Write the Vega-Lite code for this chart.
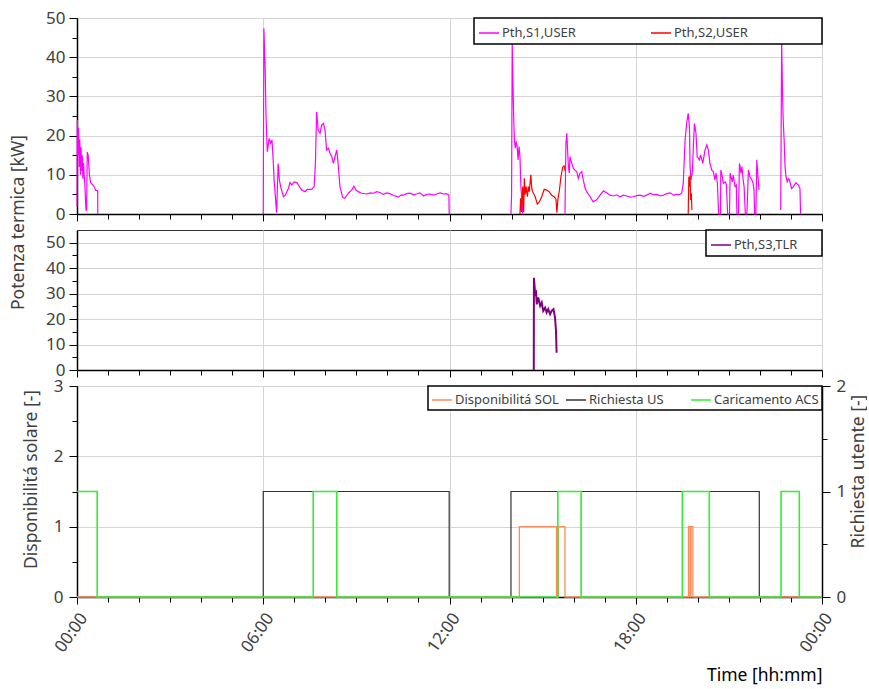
{
 "$schema": "https://vega.github.io/schema/vega-lite/v6.json",
 "background": "white",
 "padding": {"left": 8, "top": 8, "right": 0, "bottom": 0},
 "bounds": "flush",
 "spacing": 16,
 "config": {
  "font": "Noto Sans",
  "view": {"stroke": "#333333", "strokeWidth": 1},
  "axis": {"labelFont": "Noto Sans", "titleFont": "Noto Sans", "labelColor": "#404040", "titleColor": "#404040", "labelFontSize": 17, "titleFontSize": 17.5, "titleFontWeight": "normal", "domainColor": "#000000", "domainWidth": 1.5, "tickColor": "#000000", "tickWidth": 1, "gridColor": "#d4d4d4", "gridWidth": 1},
  "legend": {"labelFont": "Noto Sans", "labelFontSize": 13, "labelColor": "#404040", "symbolType": "stroke", "symbolSize": 400, "symbolStrokeWidth": 1.5, "strokeColor": "#000000", "strokeWidth": 1.5, "fillColor": "white", "direction": "horizontal", "orient": "top-right", "offset": 0, "labelOffset": 2}
 },
 "resolve": {"scale": {"color": "independent", "x": "independent", "y": "independent"}, "legend": {"color": "independent"}},
 "datasets": {
  "top": [
   {"serie":"Pth,S1,USER","seg":"a","h":0,"v":2},{"serie":"Pth,S1,USER","seg":"a","h":0.01,"v":24},{"serie":"Pth,S1,USER","seg":"a","h":0.03,"v":15},{"serie":"Pth,S1,USER","seg":"a","h":0.05,"v":22},{"serie":"Pth,S1,USER","seg":"a","h":0.07,"v":12},{"serie":"Pth,S1,USER","seg":"a","h":0.09,"v":19},{"serie":"Pth,S1,USER","seg":"a","h":0.11,"v":10},{"serie":"Pth,S1,USER","seg":"a","h":0.13,"v":17},{"serie":"Pth,S1,USER","seg":"a","h":0.15,"v":11},{"serie":"Pth,S1,USER","seg":"a","h":0.17,"v":15},{"serie":"Pth,S1,USER","seg":"a","h":0.19,"v":9},{"serie":"Pth,S1,USER","seg":"a","h":0.21,"v":13},{"serie":"Pth,S1,USER","seg":"a","h":0.23,"v":10},{"serie":"Pth,S1,USER","seg":"a","h":0.25,"v":8},{"serie":"Pth,S1,USER","seg":"a","h":0.29,"v":1},{"serie":"Pth,S1,USER","seg":"a","h":0.31,"v":1},{"serie":"Pth,S1,USER","seg":"a","h":0.33,"v":15.8},{"serie":"Pth,S1,USER","seg":"a","h":0.36,"v":15},{"serie":"Pth,S1,USER","seg":"a","h":0.40,"v":10},{"serie":"Pth,S1,USER","seg":"a","h":0.44,"v":8},{"serie":"Pth,S1,USER","seg":"a","h":0.50,"v":7.5},{"serie":"Pth,S1,USER","seg":"a","h":0.55,"v":7},{"serie":"Pth,S1,USER","seg":"a","h":0.60,"v":6},{"serie":"Pth,S1,USER","seg":"a","h":0.665,"v":6},{"serie":"Pth,S1,USER","seg":"a","h":0.67,"v":0},
   {"serie":"Pth,S1,USER","seg":"b","h":6.00,"v":0},{"serie":"Pth,S1,USER","seg":"b","h":6.02,"v":47.4},{"serie":"Pth,S1,USER","seg":"b","h":6.06,"v":37.6},{"serie":"Pth,S1,USER","seg":"b","h":6.09,"v":24.8},{"serie":"Pth,S1,USER","seg":"b","h":6.13,"v":15.9},{"serie":"Pth,S1,USER","seg":"b","h":6.19,"v":19.3},{"serie":"Pth,S1,USER","seg":"b","h":6.24,"v":18},{"serie":"Pth,S1,USER","seg":"b","h":6.28,"v":18.9},{"serie":"Pth,S1,USER","seg":"b","h":6.32,"v":13.8},{"serie":"Pth,S1,USER","seg":"b","h":6.35,"v":8.7},{"serie":"Pth,S1,USER","seg":"b","h":6.43,"v":0.3},{"serie":"Pth,S1,USER","seg":"b","h":6.48,"v":12.9},{"serie":"Pth,S1,USER","seg":"b","h":6.52,"v":8.7},{"serie":"Pth,S1,USER","seg":"b","h":6.56,"v":7},{"serie":"Pth,S1,USER","seg":"b","h":6.65,"v":4.4},{"serie":"Pth,S1,USER","seg":"b","h":6.71,"v":4.8},{"serie":"Pth,S1,USER","seg":"b","h":6.81,"v":6.5},{"serie":"Pth,S1,USER","seg":"b","h":6.86,"v":8},{"serie":"Pth,S1,USER","seg":"b","h":6.92,"v":7.4},{"serie":"Pth,S1,USER","seg":"b","h":6.99,"v":8.2},{"serie":"Pth,S1,USER","seg":"b","h":7.08,"v":8},{"serie":"Pth,S1,USER","seg":"b","h":7.13,"v":7.4},{"serie":"Pth,S1,USER","seg":"b","h":7.24,"v":6.1},{"serie":"Pth,S1,USER","seg":"b","h":7.35,"v":5.7},{"serie":"Pth,S1,USER","seg":"b","h":7.42,"v":6.3},{"serie":"Pth,S1,USER","seg":"b","h":7.56,"v":6.3},{"serie":"Pth,S1,USER","seg":"b","h":7.64,"v":7},{"serie":"Pth,S1,USER","seg":"b","h":7.68,"v":12.9},{"serie":"Pth,S1,USER","seg":"b","h":7.72,"v":26},{"serie":"Pth,S1,USER","seg":"b","h":7.77,"v":21.4},{"serie":"Pth,S1,USER","seg":"b","h":7.83,"v":20.6},{"serie":"Pth,S1,USER","seg":"b","h":7.88,"v":22.7},{"serie":"Pth,S1,USER","seg":"b","h":7.94,"v":23.1},{"serie":"Pth,S1,USER","seg":"b","h":7.99,"v":21.4},{"serie":"Pth,S1,USER","seg":"b","h":8.04,"v":16.3},{"serie":"Pth,S1,USER","seg":"b","h":8.10,"v":16.8},{"serie":"Pth,S1,USER","seg":"b","h":8.15,"v":15.5},{"serie":"Pth,S1,USER","seg":"b","h":8.21,"v":14.6},{"serie":"Pth,S1,USER","seg":"b","h":8.26,"v":12.9},{"serie":"Pth,S1,USER","seg":"b","h":8.31,"v":14.6},{"serie":"Pth,S1,USER","seg":"b","h":8.37,"v":16.3},{"serie":"Pth,S1,USER","seg":"b","h":8.42,"v":12.1},{"serie":"Pth,S1,USER","seg":"b","h":8.47,"v":7},{"serie":"Pth,S1,USER","seg":"b","h":8.56,"v":4.2},{"serie":"Pth,S1,USER","seg":"b","h":8.63,"v":4},{"serie":"Pth,S1,USER","seg":"b","h":8.74,"v":5.3},{"serie":"Pth,S1,USER","seg":"b","h":8.85,"v":6.1},{"serie":"Pth,S1,USER","seg":"b","h":8.92,"v":7.1},{"serie":"Pth,S1,USER","seg":"b","h":8.99,"v":6.1},{"serie":"Pth,S1,USER","seg":"b","h":9.06,"v":5.7},{"serie":"Pth,S1,USER","seg":"b","h":9.17,"v":5.3},{"serie":"Pth,S1,USER","seg":"b","h":9.33,"v":5.1},{"serie":"Pth,S1,USER","seg":"b","h":9.45,"v":5.4},{"serie":"Pth,S1,USER","seg":"b","h":9.55,"v":5.3},{"serie":"Pth,S1,USER","seg":"b","h":9.65,"v":5.7},{"serie":"Pth,S1,USER","seg":"b","h":9.76,"v":5.5},{"serie":"Pth,S1,USER","seg":"b","h":9.87,"v":5.0},{"serie":"Pth,S1,USER","seg":"b","h":9.98,"v":5.4},{"serie":"Pth,S1,USER","seg":"b","h":10.08,"v":5.2},{"serie":"Pth,S1,USER","seg":"b","h":10.19,"v":4.8},{"serie":"Pth,S1,USER","seg":"b","h":10.35,"v":4.3},{"serie":"Pth,S1,USER","seg":"b","h":10.45,"v":4.9},{"serie":"Pth,S1,USER","seg":"b","h":10.51,"v":4.8},{"serie":"Pth,S1,USER","seg":"b","h":10.62,"v":5.2},{"serie":"Pth,S1,USER","seg":"b","h":10.73,"v":5.3},{"serie":"Pth,S1,USER","seg":"b","h":10.84,"v":4.9},{"serie":"Pth,S1,USER","seg":"b","h":10.94,"v":5.1},{"serie":"Pth,S1,USER","seg":"b","h":11.05,"v":5.4},{"serie":"Pth,S1,USER","seg":"b","h":11.16,"v":4.6},{"serie":"Pth,S1,USER","seg":"b","h":11.27,"v":5.0},{"serie":"Pth,S1,USER","seg":"b","h":11.37,"v":5.1},{"serie":"Pth,S1,USER","seg":"b","h":11.48,"v":4.8},{"serie":"Pth,S1,USER","seg":"b","h":11.59,"v":5.1},{"serie":"Pth,S1,USER","seg":"b","h":11.70,"v":5.4},{"serie":"Pth,S1,USER","seg":"b","h":11.80,"v":5.1},{"serie":"Pth,S1,USER","seg":"b","h":11.90,"v":5.2},{"serie":"Pth,S1,USER","seg":"b","h":11.98,"v":4.8},{"serie":"Pth,S1,USER","seg":"b","h":11.99,"v":0},
   {"serie":"Pth,S1,USER","seg":"c","h":13.98,"v":0},{"serie":"Pth,S1,USER","seg":"c","h":14.00,"v":5},{"serie":"Pth,S1,USER","seg":"c","h":14.02,"v":44},{"serie":"Pth,S1,USER","seg":"c","h":14.04,"v":35},{"serie":"Pth,S1,USER","seg":"c","h":14.07,"v":24},{"serie":"Pth,S1,USER","seg":"c","h":14.09,"v":19},{"serie":"Pth,S1,USER","seg":"c","h":14.12,"v":16.8},{"serie":"Pth,S1,USER","seg":"c","h":14.15,"v":18.5},{"serie":"Pth,S1,USER","seg":"c","h":14.18,"v":17.2},{"serie":"Pth,S1,USER","seg":"c","h":14.21,"v":13.8},{"serie":"Pth,S1,USER","seg":"c","h":14.24,"v":17.2},{"serie":"Pth,S1,USER","seg":"c","h":14.27,"v":14.6},{"serie":"Pth,S1,USER","seg":"c","h":14.30,"v":7},{"serie":"Pth,S1,USER","seg":"c","h":14.34,"v":2.7},{"serie":"Pth,S1,USER","seg":"c","h":14.36,"v":0},
   {"serie":"Pth,S1,USER","seg":"d","h":15.72,"v":0},{"serie":"Pth,S1,USER","seg":"d","h":15.75,"v":18},{"serie":"Pth,S1,USER","seg":"d","h":15.78,"v":20.6},{"serie":"Pth,S1,USER","seg":"d","h":15.80,"v":17},{"serie":"Pth,S1,USER","seg":"d","h":15.83,"v":12.1},{"serie":"Pth,S1,USER","seg":"d","h":15.86,"v":10.4},{"serie":"Pth,S1,USER","seg":"d","h":15.88,"v":14.6},{"serie":"Pth,S1,USER","seg":"d","h":15.94,"v":12.9},{"serie":"Pth,S1,USER","seg":"d","h":15.99,"v":11.7},{"serie":"Pth,S1,USER","seg":"d","h":16.04,"v":11.2},{"serie":"Pth,S1,USER","seg":"d","h":16.10,"v":10.8},{"serie":"Pth,S1,USER","seg":"d","h":16.15,"v":9.1},{"serie":"Pth,S1,USER","seg":"d","h":16.20,"v":10.4},{"serie":"Pth,S1,USER","seg":"d","h":16.26,"v":10.8},{"serie":"Pth,S1,USER","seg":"d","h":16.31,"v":8.7},{"serie":"Pth,S1,USER","seg":"d","h":16.37,"v":6.5},{"serie":"Pth,S1,USER","seg":"d","h":16.42,"v":5.7},{"serie":"Pth,S1,USER","seg":"d","h":16.53,"v":4.4},{"serie":"Pth,S1,USER","seg":"d","h":16.63,"v":3.1},{"serie":"Pth,S1,USER","seg":"d","h":16.74,"v":3.6},{"serie":"Pth,S1,USER","seg":"d","h":16.85,"v":4.8},{"serie":"Pth,S1,USER","seg":"d","h":16.96,"v":5.9},{"serie":"Pth,S1,USER","seg":"d","h":17.06,"v":5.4},{"serie":"Pth,S1,USER","seg":"d","h":17.17,"v":4.8},{"serie":"Pth,S1,USER","seg":"d","h":17.28,"v":4.6},{"serie":"Pth,S1,USER","seg":"d","h":17.38,"v":4.9},{"serie":"Pth,S1,USER","seg":"d","h":17.49,"v":4.4},{"serie":"Pth,S1,USER","seg":"d","h":17.60,"v":4.8},{"serie":"Pth,S1,USER","seg":"d","h":17.71,"v":4.6},{"serie":"Pth,S1,USER","seg":"d","h":17.82,"v":4.3},{"serie":"Pth,S1,USER","seg":"d","h":17.92,"v":4.4},{"serie":"Pth,S1,USER","seg":"d","h":18.03,"v":4.7},{"serie":"Pth,S1,USER","seg":"d","h":18.14,"v":4.8},{"serie":"Pth,S1,USER","seg":"d","h":18.25,"v":4.5},{"serie":"Pth,S1,USER","seg":"d","h":18.35,"v":4.8},{"serie":"Pth,S1,USER","seg":"d","h":18.46,"v":5.3},{"serie":"Pth,S1,USER","seg":"d","h":18.57,"v":4.9},{"serie":"Pth,S1,USER","seg":"d","h":18.68,"v":5.0},{"serie":"Pth,S1,USER","seg":"d","h":18.79,"v":4.6},{"serie":"Pth,S1,USER","seg":"d","h":18.89,"v":4.8},{"serie":"Pth,S1,USER","seg":"d","h":19.00,"v":5.2},{"serie":"Pth,S1,USER","seg":"d","h":19.11,"v":5.4},{"serie":"Pth,S1,USER","seg":"d","h":19.22,"v":4.8},{"serie":"Pth,S1,USER","seg":"d","h":19.32,"v":5.0},{"serie":"Pth,S1,USER","seg":"d","h":19.40,"v":4.9},{"serie":"Pth,S1,USER","seg":"d","h":19.48,"v":5.3},{"serie":"Pth,S1,USER","seg":"d","h":19.53,"v":7.8},{"serie":"Pth,S1,USER","seg":"d","h":19.59,"v":18.9},{"serie":"Pth,S1,USER","seg":"d","h":19.64,"v":23.1},{"serie":"Pth,S1,USER","seg":"d","h":19.69,"v":25.7},{"serie":"Pth,S1,USER","seg":"d","h":19.73,"v":22.3},{"serie":"Pth,S1,USER","seg":"d","h":19.75,"v":12.1},{"serie":"Pth,S1,USER","seg":"d","h":19.78,"v":8.7},{"serie":"Pth,S1,USER","seg":"d","h":19.82,"v":10.4},{"serie":"Pth,S1,USER","seg":"d","h":19.86,"v":18},{"serie":"Pth,S1,USER","seg":"d","h":19.89,"v":23.1},{"serie":"Pth,S1,USER","seg":"d","h":19.94,"v":20.6},{"serie":"Pth,S1,USER","seg":"d","h":19.98,"v":14.6},{"serie":"Pth,S1,USER","seg":"d","h":20.05,"v":13.8},{"serie":"Pth,S1,USER","seg":"d","h":20.09,"v":15.1},{"serie":"Pth,S1,USER","seg":"d","h":20.16,"v":12.9},{"serie":"Pth,S1,USER","seg":"d","h":20.23,"v":16.3},{"serie":"Pth,S1,USER","seg":"d","h":20.29,"v":17.6},{"serie":"Pth,S1,USER","seg":"d","h":20.34,"v":16.3},{"serie":"Pth,S1,USER","seg":"d","h":20.39,"v":12.9},{"serie":"Pth,S1,USER","seg":"d","h":20.45,"v":11.2},{"serie":"Pth,S1,USER","seg":"d","h":20.50,"v":10.8},{"serie":"Pth,S1,USER","seg":"d","h":20.55,"v":8.7},{"serie":"Pth,S1,USER","seg":"d","h":20.59,"v":10.4},{"serie":"Pth,S1,USER","seg":"d","h":20.63,"v":7.8},{"serie":"Pth,S1,USER","seg":"d","h":20.67,"v":0},{"serie":"Pth,S1,USER","seg":"d","h":20.73,"v":0},{"serie":"Pth,S1,USER","seg":"d","h":20.74,"v":11.2},{"serie":"Pth,S1,USER","seg":"d","h":20.78,"v":9.9},{"serie":"Pth,S1,USER","seg":"d","h":20.82,"v":7.8},{"serie":"Pth,S1,USER","seg":"d","h":20.88,"v":8.2},{"serie":"Pth,S1,USER","seg":"d","h":20.92,"v":7.5},{"serie":"Pth,S1,USER","seg":"d","h":20.96,"v":0},{"serie":"Pth,S1,USER","seg":"d","h":21.02,"v":0},{"serie":"Pth,S1,USER","seg":"d","h":21.04,"v":10.4},{"serie":"Pth,S1,USER","seg":"d","h":21.07,"v":9.5},{"serie":"Pth,S1,USER","seg":"d","h":21.11,"v":8.2},{"serie":"Pth,S1,USER","seg":"d","h":21.14,"v":9.9},{"serie":"Pth,S1,USER","seg":"d","h":21.20,"v":7.0},{"serie":"Pth,S1,USER","seg":"d","h":21.24,"v":7.4},{"serie":"Pth,S1,USER","seg":"d","h":21.26,"v":0},{"serie":"Pth,S1,USER","seg":"d","h":21.31,"v":0},{"serie":"Pth,S1,USER","seg":"d","h":21.34,"v":12.9},{"serie":"Pth,S1,USER","seg":"d","h":21.36,"v":12.1},{"serie":"Pth,S1,USER","seg":"d","h":21.39,"v":10.4},{"serie":"Pth,S1,USER","seg":"d","h":21.42,"v":12.1},{"serie":"Pth,S1,USER","seg":"d","h":21.46,"v":8.7},{"serie":"Pth,S1,USER","seg":"d","h":21.49,"v":7.0},{"serie":"Pth,S1,USER","seg":"d","h":21.53,"v":0},{"serie":"Pth,S1,USER","seg":"d","h":21.58,"v":0},{"serie":"Pth,S1,USER","seg":"d","h":21.63,"v":11.2},{"serie":"Pth,S1,USER","seg":"d","h":21.68,"v":9.5},{"serie":"Pth,S1,USER","seg":"d","h":21.74,"v":8.7},{"serie":"Pth,S1,USER","seg":"d","h":21.78,"v":7.8},{"serie":"Pth,S1,USER","seg":"d","h":21.81,"v":6.1},{"serie":"Pth,S1,USER","seg":"d","h":21.83,"v":0},{"serie":"Pth,S1,USER","seg":"d","h":21.87,"v":0},{"serie":"Pth,S1,USER","seg":"d","h":21.90,"v":13.8},{"serie":"Pth,S1,USER","seg":"d","h":21.93,"v":10.4},{"serie":"Pth,S1,USER","seg":"d","h":21.97,"v":6.1},
   {"serie":"Pth,S1,USER","seg":"e","h":22.67,"v":1},{"serie":"Pth,S1,USER","seg":"e","h":22.70,"v":44},{"serie":"Pth,S1,USER","seg":"e","h":22.73,"v":30},{"serie":"Pth,S1,USER","seg":"e","h":22.75,"v":24},{"serie":"Pth,S1,USER","seg":"e","h":22.78,"v":18.9},{"serie":"Pth,S1,USER","seg":"e","h":22.81,"v":12},{"serie":"Pth,S1,USER","seg":"e","h":22.84,"v":9.5},{"serie":"Pth,S1,USER","seg":"e","h":22.88,"v":8.2},{"serie":"Pth,S1,USER","seg":"e","h":22.92,"v":9},{"serie":"Pth,S1,USER","seg":"e","h":22.95,"v":8.7},{"serie":"Pth,S1,USER","seg":"e","h":23.02,"v":6.5},{"serie":"Pth,S1,USER","seg":"e","h":23.08,"v":7},{"serie":"Pth,S1,USER","seg":"e","h":23.12,"v":7.5},{"serie":"Pth,S1,USER","seg":"e","h":23.16,"v":8},{"serie":"Pth,S1,USER","seg":"e","h":23.24,"v":7.4},{"serie":"Pth,S1,USER","seg":"e","h":23.29,"v":6.5},{"serie":"Pth,S1,USER","seg":"e","h":23.31,"v":0},
   {"serie":"Pth,S2,USER","seg":"f","h":14.27,"v":0},{"serie":"Pth,S2,USER","seg":"f","h":14.29,"v":4},{"serie":"Pth,S2,USER","seg":"f","h":14.32,"v":0.5},{"serie":"Pth,S2,USER","seg":"f","h":14.36,"v":7},{"serie":"Pth,S2,USER","seg":"f","h":14.39,"v":0.5},{"serie":"Pth,S2,USER","seg":"f","h":14.41,"v":9.1},{"serie":"Pth,S2,USER","seg":"f","h":14.44,"v":5},{"serie":"Pth,S2,USER","seg":"f","h":14.47,"v":7},{"serie":"Pth,S2,USER","seg":"f","h":14.51,"v":4.4},{"serie":"Pth,S2,USER","seg":"f","h":14.54,"v":7},{"serie":"Pth,S2,USER","seg":"f","h":14.57,"v":5.7},{"serie":"Pth,S2,USER","seg":"f","h":14.62,"v":10},{"serie":"Pth,S2,USER","seg":"f","h":14.65,"v":6.5},{"serie":"Pth,S2,USER","seg":"f","h":14.68,"v":5.7},{"serie":"Pth,S2,USER","seg":"f","h":14.76,"v":4.4},{"serie":"Pth,S2,USER","seg":"f","h":14.83,"v":2.5},{"serie":"Pth,S2,USER","seg":"f","h":14.89,"v":3},{"serie":"Pth,S2,USER","seg":"f","h":14.97,"v":4.4},{"serie":"Pth,S2,USER","seg":"f","h":15.05,"v":6.3},{"serie":"Pth,S2,USER","seg":"f","h":15.13,"v":6.1},{"serie":"Pth,S2,USER","seg":"f","h":15.21,"v":5.7},{"serie":"Pth,S2,USER","seg":"f","h":15.29,"v":4.8},{"serie":"Pth,S2,USER","seg":"f","h":15.37,"v":4.4},{"serie":"Pth,S2,USER","seg":"f","h":15.43,"v":3.8},{"serie":"Pth,S2,USER","seg":"f","h":15.46,"v":0.3},{"serie":"Pth,S2,USER","seg":"f","h":15.49,"v":3.6},{"serie":"Pth,S2,USER","seg":"f","h":15.54,"v":6},{"serie":"Pth,S2,USER","seg":"f","h":15.59,"v":9.5},{"serie":"Pth,S2,USER","seg":"f","h":15.65,"v":12},{"serie":"Pth,S2,USER","seg":"f","h":15.69,"v":12.3},{"serie":"Pth,S2,USER","seg":"f","h":15.73,"v":11},
   {"serie":"Pth,S2,USER","seg":"g","h":19.69,"v":0},{"serie":"Pth,S2,USER","seg":"g","h":19.71,"v":9.5},{"serie":"Pth,S2,USER","seg":"g","h":19.73,"v":7},{"serie":"Pth,S2,USER","seg":"g","h":19.75,"v":9.8},{"serie":"Pth,S2,USER","seg":"g","h":19.77,"v":3.6},{"serie":"Pth,S2,USER","seg":"g","h":19.79,"v":5.3},{"serie":"Pth,S2,USER","seg":"g","h":19.81,"v":1}
  ],
  "mid": [
   {"serie":"Pth,S3,TLR","h":14.715,"v":0},{"serie":"Pth,S3,TLR","h":14.72,"v":36.2},{"serie":"Pth,S3,TLR","h":14.76,"v":29.8},{"serie":"Pth,S3,TLR","h":14.79,"v":30.4},{"serie":"Pth,S3,TLR","h":14.81,"v":25.8},{"serie":"Pth,S3,TLR","h":14.86,"v":28.5},{"serie":"Pth,S3,TLR","h":14.92,"v":25.2},{"serie":"Pth,S3,TLR","h":14.97,"v":26.5},{"serie":"Pth,S3,TLR","h":15.02,"v":23.2},{"serie":"Pth,S3,TLR","h":15.08,"v":24.5},{"serie":"Pth,S3,TLR","h":15.13,"v":22.6},{"serie":"Pth,S3,TLR","h":15.18,"v":23.9},{"serie":"Pth,S3,TLR","h":15.24,"v":21.9},{"serie":"Pth,S3,TLR","h":15.29,"v":23.2},{"serie":"Pth,S3,TLR","h":15.35,"v":23.9},{"serie":"Pth,S3,TLR","h":15.40,"v":20.6},{"serie":"Pth,S3,TLR","h":15.43,"v":15.4},{"serie":"Pth,S3,TLR","h":15.45,"v":6.8}
  ],
  "bot": [
   {"serie":"Richiesta US","h":0,"v":0},{"serie":"Richiesta US","h":6.0,"v":1},{"serie":"Richiesta US","h":11.99,"v":0},{"serie":"Richiesta US","h":13.98,"v":1},{"serie":"Richiesta US","h":21.98,"v":0},{"serie":"Richiesta US","h":24,"v":0},
   {"serie":"Disponibilitá SOL","h":0,"v":0},{"serie":"Disponibilitá SOL","h":14.25,"v":1},{"serie":"Disponibilitá SOL","h":15.45,"v":0},{"serie":"Disponibilitá SOL","h":15.5,"v":1},{"serie":"Disponibilitá SOL","h":15.72,"v":0},{"serie":"Disponibilitá SOL","h":19.70,"v":1},{"serie":"Disponibilitá SOL","h":19.75,"v":0},{"serie":"Disponibilitá SOL","h":19.78,"v":1},{"serie":"Disponibilitá SOL","h":19.84,"v":0},{"serie":"Disponibilitá SOL","h":24,"v":0},
   {"serie":"Caricamento ACS","h":0,"v":1},{"serie":"Caricamento ACS","h":0.65,"v":0},{"serie":"Caricamento ACS","h":7.61,"v":1},{"serie":"Caricamento ACS","h":8.37,"v":0},{"serie":"Caricamento ACS","h":15.49,"v":1},{"serie":"Caricamento ACS","h":16.24,"v":0},{"serie":"Caricamento ACS","h":19.50,"v":1},{"serie":"Caricamento ACS","h":20.37,"v":0},{"serie":"Caricamento ACS","h":22.68,"v":1},{"serie":"Caricamento ACS","h":23.27,"v":0},{"serie":"Caricamento ACS","h":24,"v":0}
  ]
 },
 "vconcat": [
  {
   "width": 745, "height": 196,
   "data": {"name": "top"},
   "mark": {"type": "line", "strokeWidth": 1.2},
   "encoding": {
    "x": {"field": "h", "type": "quantitative", "scale": {"domain": [0, 24], "nice": false, "zero": false},
     "axis": {"values": [0,1,2,3,4,5,6,7,8,9,10,11,12,13,14,15,16,17,18,19,20,21,22,23,24], "labels": false, "title": null,
      "tickSize": {"condition": {"test": "datum.value % 6 == 0", "value": 7}, "value": 5},
      "grid": true, "gridOpacity": {"condition": {"test": "datum.value % 6 == 0", "value": 1}, "value": 0}}},
    "y": {"field": "v", "type": "quantitative", "scale": {"domain": [0, 50], "nice": false},
     "axis": {"values": [0,5,10,15,20,25,30,35,40,45,50], "labelExpr": "datum.value % 10 == 0 ? datum.label : ''", "labelPadding": 4,
      "tickSize": {"condition": {"test": "datum.value % 10 == 0", "value": 8}, "value": 5},
      "grid": true, "gridOpacity": {"condition": {"test": "datum.value % 10 == 0", "value": 1}, "value": 0},
      "title": "Potenza termica [kW]", "titleX": -50, "titleY": 204, "titleAngle": 270, "titleAlign": "center", "titleBaseline": "bottom"}},
    "color": {"field": "serie", "type": "nominal", "scale": {"domain": ["Pth,S1,USER", "Pth,S2,USER"], "range": ["#FF00FF", "#FF0000"]},
     "legend": {"title": null, "columns": 2, "columnPadding": 72, "padding": 4,
      "labelExpr": "datum.label == 'Pth,S2,USER' ? datum.label + '\u2800\u2800\u2800\u2800\u2800\u2800\u2800' : datum.label"}},
    "detail": {"field": "seg"}
   }
  },
  {
   "width": 745, "height": 140,
   "data": {"name": "mid"},
   "mark": {"type": "line", "strokeWidth": 2},
   "encoding": {
    "x": {"field": "h", "type": "quantitative", "scale": {"domain": [0, 24], "nice": false, "zero": false},
     "axis": {"values": [0,1,2,3,4,5,6,7,8,9,10,11,12,13,14,15,16,17,18,19,20,21,22,23,24], "labels": false, "title": null,
      "tickSize": {"condition": {"test": "datum.value % 6 == 0", "value": 7}, "value": 5},
      "grid": true, "gridOpacity": {"condition": {"test": "datum.value % 6 == 0", "value": 1}, "value": 0}}},
    "y": {"field": "v", "type": "quantitative", "scale": {"domain": [0, 55], "nice": false},
     "axis": {"values": [0,5,10,15,20,25,30,35,40,45,50], "labelExpr": "datum.value % 10 == 0 ? datum.label : ''", "labelPadding": 4,
      "tickSize": {"condition": {"test": "datum.value % 10 == 0", "value": 8}, "value": 5},
      "grid": true, "gridOpacity": {"condition": {"test": "datum.value % 10 == 0", "value": 1}, "value": 0},
      "title": null}},
    "color": {"field": "serie", "type": "nominal", "scale": {"domain": ["Pth,S3,TLR"], "range": ["#800080"]},
     "legend": {"title": null, "padding": 4,
      "labelExpr": "datum.label + '\u2800\u2800'"}}
   }
  },
  {
   "width": 745, "height": 211,
   "data": {"name": "bot"},
   "encoding": {
    "x": {"field": "h", "type": "quantitative", "scale": {"domain": [0, 24], "nice": false, "zero": false},
     "axis": {"values": [0,1,2,3,4,5,6,7,8,9,10,11,12,13,14,15,16,17,18,19,20,21,22,23,24],
      "labelExpr": "datum.value % 6 == 0 ? ((datum.value % 24) < 10 ? '0' : '') + (datum.value % 24) + ':00' : ''",
      "labelAngle": -55, "labelAlign": "right", "labelBaseline": "top", "labelPadding": 6, "labelFontSize": 17,
      "tickSize": {"condition": {"test": "datum.value % 6 == 0", "value": 7}, "value": 5},
      "grid": true, "gridOpacity": {"condition": {"test": "datum.value % 6 == 0", "value": 1}, "value": 0},
      "title": "Time [hh:mm]", "titleAnchor": "end", "titleColor": "#000000", "titleFontSize": 17.5, "titleFontWeight": "normal", "titlePadding": 12}},
    "color": {"field": "serie", "type": "nominal", "scale": {"domain": ["Disponibilitá SOL", "Richiesta US", "Caricamento ACS"], "range": ["#FF8C5A", "#333333", "#33EE33"]},
     "legend": {"title": null, "columns": 3, "columnPadding": 4, "padding": 3,
      "labelExpr": "datum.label == 'Richiesta US' ? datum.label + '\u2800\u2800' : datum.label"}}
   },
   "layer": [
    {
     "transform": [{"filter": "datum.serie == 'Richiesta US'"}],
     "mark": {"type": "line", "interpolate": "step-after", "strokeWidth": 1.2},
     "encoding": {"y": {"field": "v", "type": "quantitative", "scale": {"domain": [0, 2], "nice": false},
      "axis": {"orient": "right", "values": [0, 0.5, 1, 1.5, 2], "labelExpr": "datum.value % 1 == 0 ? '' + datum.value : ''", "labelPadding": 6,
       "tickSize": {"condition": {"test": "datum.value % 1 == 0", "value": 8}, "value": 5}, "grid": false,
       "title": "Richiesta utente [-]", "titleX": 45, "titleY": 85, "titleAngle": 270, "titleAlign": "center", "titleBaseline": "bottom"}}}
    },
    {
     "transform": [{"filter": "datum.serie == 'Disponibilitá SOL'"}],
     "mark": {"type": "line", "interpolate": "step-after", "strokeWidth": 1.3},
     "encoding": {"y": {"field": "v", "type": "quantitative", "scale": {"domain": [0, 3], "nice": false},
      "axis": {"orient": "left", "values": [0, 0.5, 1, 1.5, 2, 2.5, 3], "labelExpr": "datum.value % 1 == 0 ? '' + datum.value : ''", "labelPadding": 6,
       "tickSize": {"condition": {"test": "datum.value % 1 == 0", "value": 8}, "value": 5},
       "grid": true, "gridOpacity": {"condition": {"test": "datum.value % 1 == 0", "value": 1}, "value": 0},
       "title": "Disponibilitá solare [-]", "titleX": -37, "titleY": 93, "titleAngle": 270, "titleAlign": "center", "titleBaseline": "bottom"}}}
    },
    {
     "transform": [{"filter": "datum.serie == 'Caricamento ACS'"}],
     "mark": {"type": "line", "interpolate": "step-after", "strokeWidth": 1.6},
     "encoding": {"y": {"field": "v", "type": "quantitative", "scale": {"domain": [0, 2], "nice": false}, "axis": null}}
    }
   ],
   "resolve": {"scale": {"y": "independent"}}
  }
 ]
}
